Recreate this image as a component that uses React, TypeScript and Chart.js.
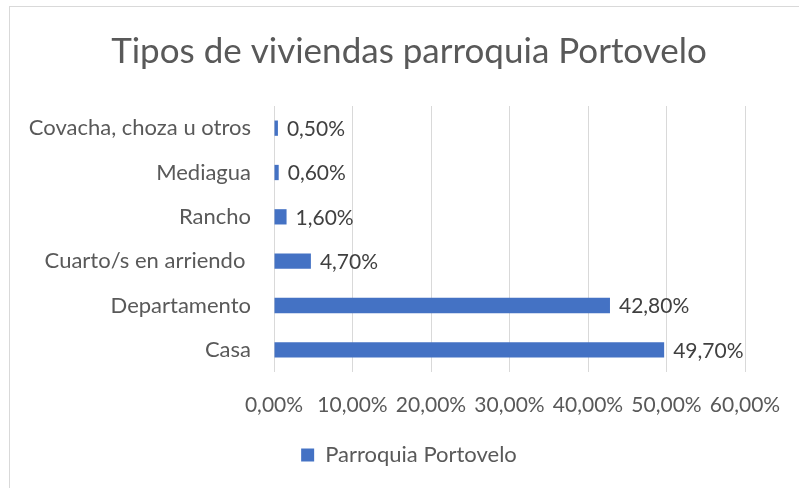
import React, { useEffect, useRef } from "react";
import { Chart, registerables } from "chart.js";

Chart.register(...registerables);

const titleText = "Tipos de viviendas parroquia Portovelo";
const seriesName = "Parroquia Portovelo";
const categories = [
  "Covacha, choza u otros",
  "Mediagua",
  "Rancho",
  "Cuarto/s en arriendo ",
  "Departamento",
  "Casa",
];
const values = [0.5, 0.6, 1.6, 4.7, 42.8, 49.7];
const axisMin = 0;
const axisMax = 60;
const axisStep = 10;

const FONT = "Lato, 'Open Sans', sans-serif";
const fmt = (v: number) => v.toFixed(2).replace(".", ",") + "%";

const valueLabels = {
  id: "valueLabels",
  afterDatasetsDraw(chart: any) {
    const ctx = chart.ctx;
    const meta = chart.getDatasetMeta(0);
    ctx.save();
    ctx.fillStyle = "#404040";
    ctx.font = `21px ${FONT}`;
    ctx.textAlign = "left";
    ctx.textBaseline = "middle";
    meta.data.forEach((bar: any, i: number) => {
      ctx.fillText(fmt(values[i]), bar.x + 9, bar.y + 1);
    });
    ctx.restore();
  },
};

export default function App() {
  const ref = useRef<HTMLCanvasElement | null>(null);
  useEffect(() => {
    if (!ref.current) return;
    const chart = new Chart(ref.current, {
      type: "bar",
      data: {
        labels: categories,
        datasets: [
          {
            label: seriesName,
            data: values,
            backgroundColor: "#4472C4",
            borderWidth: 0,
            barPercentage: 0.345,
            categoryPercentage: 1,
          },
        ],
      },
      options: {
        indexAxis: "y",
        animation: false,
        responsive: false,
        maintainAspectRatio: false,
        layout: { padding: { left: 0, right: 0, top: 0, bottom: 19 } },
        plugins: {
          title: {
            display: true,
            text: titleText,
            color: "#595959",
            font: { family: FONT, size: 35, weight: "normal" },
            padding: { top: 24, bottom: 33 },
          },
          legend: {
            display: true,
            position: "bottom",
            labels: {
              color: "#595959",
              font: { family: FONT, size: 22 },
              boxWidth: 13,
              boxHeight: 13,
              padding: 10,
            },
          },
          tooltip: { enabled: false },
        },
        scales: {
          x: {
            min: axisMin,
            max: axisMax,
            ticks: {
              stepSize: axisStep,
              color: "#595959",
              font: { family: FONT, size: 21 },
              padding: 21,
              callback: (v: any) => fmt(Number(v)),
              maxRotation: 0,
            },
            grid: { color: "#d9d9d9", lineWidth: 1, drawTicks: false },
            border: { display: false },
            afterFit: (s: any) => {
              s.height = 62;
            },
          },
          y: {
            ticks: {
              color: "#595959",
              font: { family: FONT, size: 22 },
              padding: 23,
            },
            grid: { display: false, drawTicks: false },
            border: { display: false },
            afterFit: (s: any) => {
              s.width = 264;
            },
          },
          yRight: {
            type: "category",
            position: "right",
            display: true,
            ticks: { display: false },
            grid: { display: false, drawTicks: false },
            border: { display: false },
            afterFit: (s: any) => {
              s.width = 63;
            },
          },
        },
      },
      plugins: [valueLabels],
    });
    return () => chart.destroy();
  }, []);
  return (
    <div
      style={{
        position: "fixed",
        left: 0,
        top: 0,
        width: 799,
        height: 488,
        overflow: "hidden",
        background: "#fff",
      }}
    >
      <div
        style={{
          position: "absolute",
          left: 9,
          top: 6,
          width: 800,
          height: 490,
          border: "1px solid #d9d9d9",
          boxSizing: "border-box",
        }}
      >
        <canvas ref={ref} width={798} height={488} style={{ display: "block" }} />
      </div>
    </div>
  );
}
